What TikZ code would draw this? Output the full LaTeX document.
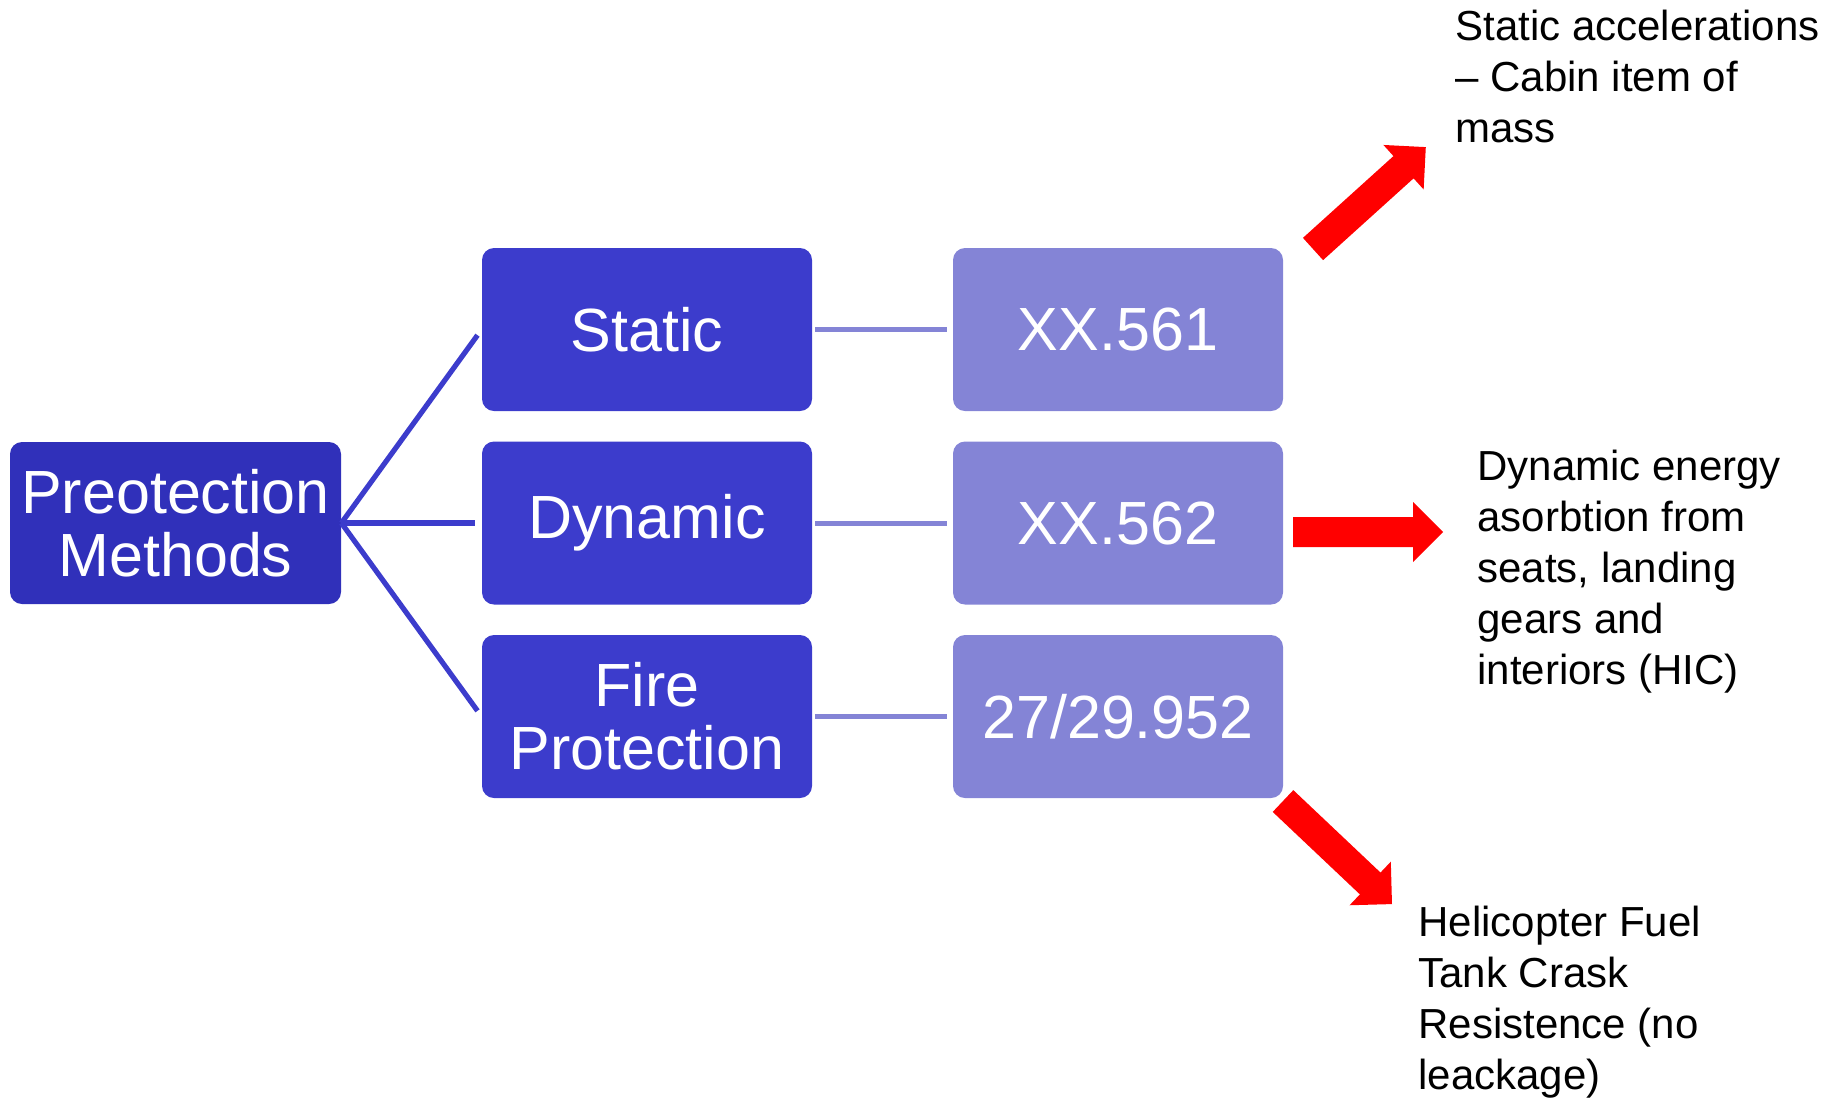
\documentclass[tikz,border=0pt]{standalone}
\usepackage{fontspec}
\setmainfont{Liberation Sans}
\definecolor{rootblue}{HTML}{3030BA}
\definecolor{midblue}{HTML}{3C3CCC}
\definecolor{lightblue}{HTML}{8484D6}
\definecolor{arrowred}{HTML}{FF0000}

\begin{document}
\begin{tikzpicture}[x=0.5pt,y=-0.5pt,
  box/.style={rectangle, rounded corners=6pt, inner sep=0pt,
    minimum width=165pt, minimum height=81.5pt, text=white,
    align=center, font=\fontsize{30.5}{31.5}\selectfont},
  rootbox/.style={box, fill=rootblue, minimum width=165.5pt, minimum height=81pt},
  methodbox/.style={box, fill=midblue},
  rulebox/.style={box, fill=lightblue},
  branch/.style={draw=midblue, line width=2.6pt},
  link/.style={draw=lightblue, line width=2.5pt},
  note/.style={anchor=north west, inner sep=0pt, align=left,
    font=\fontsize{21}{25.5}\selectfont},
  bigarrow/.style={fill=arrowred}]
\useasboundingbox (0,0) rectangle (1845,1099);

% root
\node[rootbox] (root) at (175.5,523) {Preotection\\Methods};

% methods
\node[methodbox] (static)  at (647,329.5) {Static};
\node[methodbox] (dynamic) at (647,523)   {Dynamic};
\node[methodbox] (fire)    at (647,716.5) {Fire\\Protection};

% regulations
\node[rulebox] (r561) at (1118,329.5) {XX.561};
\node[rulebox] (r562) at (1118,523)   {XX.562};
\node[rulebox] (r952) at (1118,716.5) {27/29.952};

% branches from the root
\draw[branch, shorten >=3.5pt] (root.east) -- (static.west);
\draw[branch, shorten >=3.5pt] (root.east) -- (dynamic.west);
\draw[branch, shorten >=3.5pt] (root.east) -- (fire.west);

% links to regulations
\draw[link, shorten <=1.5pt, shorten >=3pt] (static.east)  -- (r561.west);
\draw[link, shorten <=1.5pt, shorten >=3pt] (dynamic.east) -- (r562.west);
\draw[link, shorten <=1.5pt, shorten >=3pt] (fire.east)    -- (r952.west);

% notes
\node[note] (nstatic) at (1455,10) {Static accelerations\\– Cabin item of\\mass};
\node[note] (ndynamic) at (1477,450) {Dynamic energy\\asorbtion from\\seats, landing\\gears and\\interiors (HIC)};
\node[note] (nfire) at (1418,906) {Helicopter Fuel\\Tank Crask\\Resistence (no\\leackage)};

% block arrows
\fill[bigarrow, shift={(1313,249)}, rotate=42.1]
  (0,-15) -- (122,-15) -- (122,-30) -- (152,0) -- (122,30) -- (122,15) -- (0,15) -- cycle;
\fill[bigarrow, shift={(1293,532)}]
  (0,-15) -- (120,-15) -- (120,-30) -- (150,0) -- (120,30) -- (120,15) -- (0,15) -- cycle;
\fill[bigarrow, shift={(1283,801)}, rotate=-43.4]
  (0,-15) -- (120,-15) -- (120,-30) -- (150,0) -- (120,30) -- (120,15) -- (0,15) -- cycle;
\end{tikzpicture}
\end{document}
